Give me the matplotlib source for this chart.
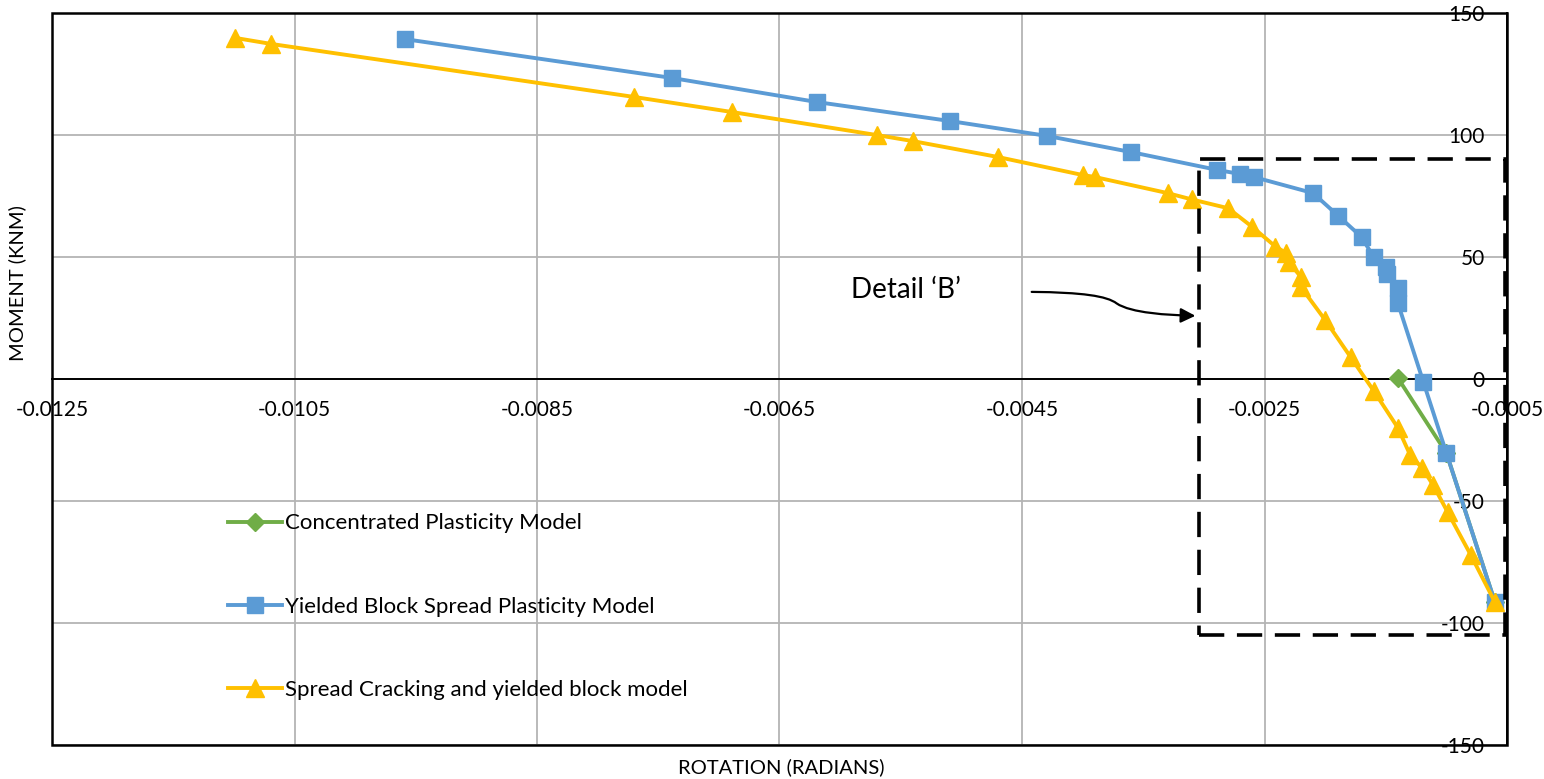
import numpy as np
import matplotlib.pyplot as plt
from matplotlib.patches import Rectangle, FancyArrowPatch
from matplotlib.path import Path

plt.rcParams['font.family'] = ['Lato', 'DejaVu Sans']

# data
conc_rot    = [-0.00140, -0.00100, -0.00060]
conc_mom    = [0.4, -30.3, -91.4]

yb_rot      = [-0.00959, -0.00739, -0.00619, -0.00509, -0.00429, -0.00360,
               -0.00289, -0.00270, -0.00259, -0.00210, -0.00189, -0.00170,
               -0.00160, -0.00150, -0.00149, -0.00140, -0.00140, -0.00119,
               -0.00100, -0.00060]
yb_mom      = [139.3, 123.4, 113.5, 105.7, 99.6, 93.0,
               85.7, 84.0, 82.8, 76.2, 66.8, 58.2,
               50.0, 46.0, 43.0, 37.3, 31.1, -1.2,
               -30.3, -91.4]

sc_rot      = [-0.01099, -0.01069, -0.00770, -0.00689, -0.00570, -0.00540,
               -0.00470, -0.00400, -0.00390, -0.00330, -0.00310, -0.00280,
               -0.00260, -0.00241, -0.00232, -0.00230, -0.00220, -0.00220,
               -0.00200, -0.00179, -0.00160, -0.00140, -0.00130, -0.00120,
               -0.00111, -0.00099, -0.00080, -0.00060]
sc_mom      = [139.8, 137.3, 115.6, 109.4, 100.0, 97.5,
               91.0, 83.6, 82.8, 76.2, 73.6, 70.0,
               62.3, 54.3, 51.6, 48.0, 41.8, 37.7,
               24.2, 9.0, -4.8, -20.0, -31.0, -36.5,
               -43.4, -54.5, -72.0, -91.4]

labels = ['Concentrated Plasticity Model',
          'Yielded Block Spread Plasticity Model',
          'Spread Cracking and yielded block model']

xticks = np.arange(-0.0125, -0.0004, 0.002)
yticks = np.arange(-150, 151, 50)

# detail box and annotation
box_x0, box_x1 = -0.00304, -0.00052
box_y0, box_y1 = -105.0, 90.2

fig = plt.figure(figsize=(15.44, 7.79), dpi=100)
ax = fig.add_axes([52/1544, 34/779, 1455/1544, 732/779])

ax.plot(conc_rot, conc_mom, color='#70AD47', lw=2.8, marker='D', ms=9, label=labels[0], zorder=3)
ax.plot(yb_rot, yb_mom, color='#5B9BD5', lw=2.8, marker='s', ms=12, label=labels[1], zorder=4)
ax.plot(sc_rot, sc_mom, color='#FFC000', lw=2.8, marker='^', ms=13, label=labels[2], zorder=5)

ax.set_xlim(-0.0125, -0.0005)
ax.set_ylim(-150, 150)
ax.set_xticks(xticks)
ax.set_xticklabels(['%.4f' % v for v in xticks])
ax.set_yticks(yticks)
ax.set_yticklabels([str(v) for v in yticks])
ax.grid(True, color='#B4B4B4', lw=1.3)
ax.set_axisbelow(True)

ax.spines['bottom'].set_position(('data', 0))
ax.spines['left'].set_position(('data', -0.0005))
ax.spines['top'].set_visible(False)
ax.spines['right'].set_visible(False)
for s in ['bottom', 'left']:
    ax.spines[s].set_linewidth(1.4)
    ax.spines[s].set_zorder(1)
ax.tick_params(axis='both', length=0, labelsize=15)
ax.tick_params(axis='x', pad=15)
ax.tick_params(axis='y', pad=16)

# outer frame
ax.add_patch(Rectangle((0, 0), 1, 1, transform=ax.transAxes, fill=False,
                       ec='black', lw=1.8, clip_on=False, zorder=6))

# detail 'B' box
ax.add_patch(Rectangle((box_x0, box_y0), box_x1 - box_x0, box_y1 - box_y0,
                       fill=False, ec='black', lw=2.6, ls=(0, (7, 3.5)),
                       clip_on=False, zorder=7))

verts = [(-0.00442, 35.7), (-0.00400, 35.5), (-0.00380, 34.0),
         (-0.00372, 31.0), (-0.00360, 27.0), (-0.00330, 26.2),
         (-0.00307, 25.9)]
codes = [Path.MOVETO, Path.CURVE4, Path.CURVE4, Path.CURVE4,
         Path.CURVE4, Path.CURVE4, Path.CURVE4]
ax.add_patch(FancyArrowPatch(path=Path(verts, codes), arrowstyle='-|>',
                             mutation_scale=22, color='black', lw=1.6, zorder=7))
ax.text(-0.00546, 36.5, 'Detail \u2018B\u2019', fontsize=20, ha='center', va='center')

ax.legend(loc='upper left', bbox_to_anchor=(0.121, 0.3165), frameon=False,
          fontsize=16, handlelength=2.43, handletextpad=0.13, labelspacing=2.85,
          borderpad=0, borderaxespad=0, numpoints=1)

fig.text(17/1544, 1 - 283/779, 'MOMENT (KNM)', rotation=90, fontsize=14.5,
         ha='center', va='center')
fig.text(781/1544, 1 - 767/779, 'ROTATION (RADIANS)', fontsize=14.5,
         ha='center', va='center')

plt.savefig('out.png', dpi=100)
